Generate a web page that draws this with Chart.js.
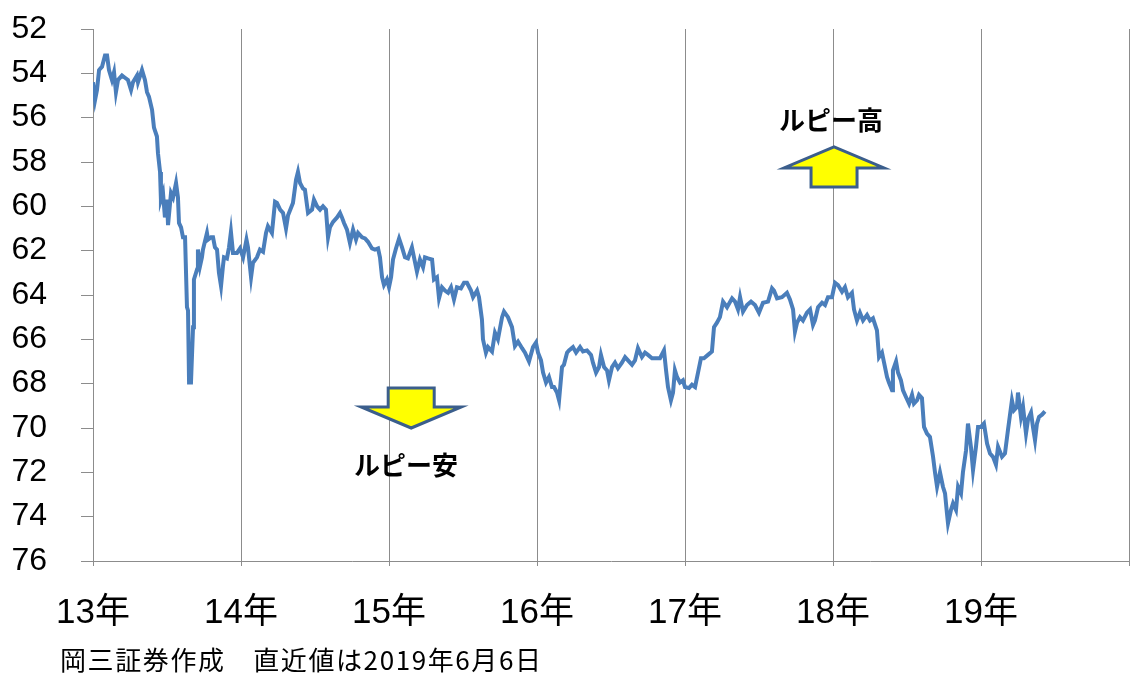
<!DOCTYPE html>
<html>
<head>
<meta charset="utf-8">
<script src="https://cdn.jsdelivr.net/npm/chart.js@4/dist/chart.umd.min.js"></script>
<style>
  body { margin: 0; background: #fff; }
  .chart-box { position: relative; width: 1131px; height: 674px; }
</style>
</head>
<body>
<div class="chart-box">
  <canvas id="rupeeChart"></canvas>
</div>
<script>
// data (x = year, 13 = 2013)
const years = [
  13.000, 13.014, 13.027, 13.041, 13.061, 13.081, 13.095, 13.108, 13.128, 13.142,
  13.155, 13.169, 13.196, 13.216, 13.236, 13.257, 13.270, 13.297, 13.304, 13.331,
  13.351, 13.365, 13.378, 13.399, 13.412, 13.432, 13.439, 13.453, 13.459, 13.473,
  13.486, 13.500, 13.507, 13.527, 13.541, 13.561, 13.574, 13.581, 13.595, 13.608,
  13.622, 13.635, 13.642, 13.649, 13.662, 13.676, 13.682, 13.703, 13.709, 13.723,
  13.736, 13.743, 13.770, 13.777, 13.797, 13.811, 13.824, 13.838, 13.851, 13.865,
  13.878, 13.885, 13.905, 13.919, 13.932, 13.946, 13.973, 13.993, 14.014, 14.037,
  14.047, 14.068, 14.081, 14.108, 14.128, 14.149, 14.169, 14.182, 14.209, 14.230,
  14.243, 14.264, 14.284, 14.304, 14.318, 14.351, 14.372, 14.385, 14.399, 14.419,
  14.432, 14.453, 14.480, 14.493, 14.514, 14.534, 14.554, 14.574, 14.588, 14.601,
  14.622, 14.649, 14.669, 14.682, 14.696, 14.716, 14.736, 14.757, 14.777, 14.791,
  14.818, 14.838, 14.858, 14.885, 14.905, 14.926, 14.939, 14.953, 14.966, 14.986,
  15.000, 15.014, 15.027, 15.047, 15.068, 15.088, 15.108, 15.128, 15.155, 15.169,
  15.189, 15.209, 15.230, 15.243, 15.264, 15.291, 15.304, 15.324, 15.338, 15.358,
  15.378, 15.399, 15.419, 15.439, 15.459, 15.486, 15.507, 15.527, 15.554, 15.568,
  15.595, 15.608, 15.628, 15.635, 15.655, 15.669, 15.696, 15.716, 15.736, 15.764,
  15.777, 15.804, 15.831, 15.851, 15.872, 15.899, 15.919, 15.946, 15.973, 15.993,
  16.007, 16.027, 16.041, 16.061, 16.081, 16.101, 16.115, 16.135, 16.149, 16.169,
  16.182, 16.203, 16.216, 16.243, 16.264, 16.291, 16.311, 16.338, 16.365, 16.378,
  16.399, 16.419, 16.432, 16.453, 16.473, 16.486, 16.507, 16.527, 16.547, 16.574,
  16.595, 16.615, 16.642, 16.662, 16.682, 16.709, 16.730, 16.750, 16.777, 16.811,
  16.831, 16.858, 16.872, 16.885, 16.905, 16.919, 16.932, 16.946, 16.966, 16.986,
  17.000, 17.027, 17.047, 17.068, 17.088, 17.108, 17.128, 17.155, 17.182, 17.196,
  17.216, 17.236, 17.257, 17.284, 17.318, 17.338, 17.358, 17.372, 17.392, 17.419,
  17.446, 17.473, 17.500, 17.527, 17.561, 17.588, 17.601, 17.622, 17.655, 17.689,
  17.709, 17.730, 17.743, 17.757, 17.777, 17.797, 17.824, 17.845, 17.865, 17.878,
  17.899, 17.926, 17.946, 17.966, 17.993, 18.014, 18.034, 18.061, 18.081, 18.101,
  18.128, 18.142, 18.162, 18.182, 18.203, 18.230, 18.250, 18.270, 18.297, 18.311,
  18.331, 18.345, 18.365, 18.378, 18.399, 18.405, 18.426, 18.439, 18.459, 18.473,
  18.493, 18.514, 18.534, 18.547, 18.568, 18.581, 18.601, 18.615, 18.635, 18.655,
  18.676, 18.689, 18.703, 18.723, 18.743, 18.757, 18.770, 18.777, 18.797, 18.811,
  18.831, 18.845, 18.865, 18.878, 18.899, 18.912, 18.932, 18.946, 18.966, 18.980,
  19.000, 19.020, 19.041, 19.061, 19.081, 19.101, 19.115, 19.142, 19.162, 19.182,
  19.209, 19.223, 19.243, 19.250, 19.270, 19.284, 19.304, 19.318, 19.338, 19.351,
  19.365, 19.378, 19.392, 19.412, 19.432
];
const rupeePerDollar = [
  54.40, 55.20, 54.75, 53.85, 53.70, 53.20, 53.20, 53.85, 54.30, 53.95,
  54.85, 54.30, 54.10, 54.20, 54.30, 54.75, 54.40, 54.10, 54.40, 53.85,
  54.30, 54.85, 55.05, 55.65, 56.45, 56.85, 57.60, 58.45, 59.70, 59.40,
  60.50, 59.70, 60.85, 59.40, 59.60, 58.95, 59.60, 60.75, 60.95, 61.40,
  61.40, 64.55, 64.70, 67.95, 67.95, 65.45, 63.30, 62.85, 61.95, 62.70,
  62.30, 61.95, 61.20, 61.50, 61.40, 61.40, 61.85, 61.95, 63.00, 63.60,
  62.70, 62.30, 62.35, 61.85, 61.15, 62.10, 62.10, 61.90, 62.30, 61.50,
  61.85, 63.20, 62.55, 62.30, 61.95, 62.05, 61.20, 60.90, 61.20, 59.80,
  59.85, 60.15, 60.30, 61.00, 60.40, 59.85, 58.80, 58.45, 58.95, 59.20,
  59.25, 60.30, 60.15, 59.70, 60.00, 60.15, 60.00, 60.15, 61.40, 60.95,
  60.70, 60.50, 60.30, 60.50, 60.75, 61.05, 61.65, 61.05, 61.50, 61.20,
  61.40, 61.45, 61.60, 61.90, 61.95, 61.90, 62.30, 63.20, 63.55, 63.30,
  63.65, 63.20, 62.40, 61.90, 61.45, 61.85, 62.30, 62.35, 61.85, 62.30,
  62.95, 62.40, 62.75, 62.30, 62.35, 62.40, 63.30, 63.20, 64.15, 63.65,
  63.80, 63.90, 63.65, 64.20, 63.65, 63.70, 63.45, 63.45, 63.80, 64.10,
  63.80, 64.10, 65.10, 66.00, 66.60, 66.35, 66.55, 65.70, 66.00, 65.00,
  64.75, 65.00, 65.45, 66.30, 66.10, 66.40, 66.60, 67.00, 66.35, 66.15,
  66.60, 66.95, 67.50, 67.95, 67.70, 68.15, 68.15, 68.40, 68.75, 67.25,
  67.15, 66.60, 66.50, 66.35, 66.60, 66.35, 66.55, 66.50, 66.70, 67.05,
  67.50, 67.25, 66.70, 67.25, 67.40, 67.85, 67.25, 67.05, 67.30, 67.05,
  66.80, 66.95, 67.15, 66.95, 66.40, 66.80, 66.60, 66.70, 66.85, 66.85,
  66.85, 66.50, 67.40, 68.15, 68.75, 68.40, 67.40, 67.70, 67.95, 67.85,
  68.15, 68.20, 68.05, 68.15, 67.50, 66.85, 66.85, 66.70, 66.55, 65.45,
  65.25, 65.00, 64.30, 64.55, 64.15, 64.30, 64.65, 64.10, 64.75, 64.45,
  64.30, 64.45, 64.80, 64.35, 64.30, 63.70, 63.80, 64.15, 64.10, 63.90,
  64.20, 64.65, 65.65, 65.25, 65.00, 65.15, 64.80, 64.65, 65.35, 65.15,
  64.55, 64.35, 64.45, 64.10, 64.10, 63.45, 63.55, 63.85, 63.65, 64.10,
  63.90, 64.65, 65.15, 64.80, 65.15, 64.90, 65.15, 65.05, 65.60, 66.80,
  66.60, 67.05, 67.70, 67.95, 68.30, 67.40, 67.00, 67.50, 67.85, 68.30,
  68.60, 68.90, 68.50, 68.90, 68.75, 68.50, 68.65, 69.95, 70.25, 70.40,
  71.30, 72.00, 72.65, 72.00, 72.65, 72.95, 73.85, 74.30, 73.70, 73.40,
  73.70, 72.65, 72.95, 72.00, 71.00, 69.80, 70.85, 71.90, 70.85, 69.95,
  69.95, 69.80, 70.70, 71.15, 71.30, 71.65, 70.85, 71.30, 71.15, 70.10,
  68.75, 69.20, 69.05, 68.40, 69.50, 69.05, 70.25, 69.60, 69.30, 69.95,
  70.55, 69.80, 69.50, 69.40, 69.25
];
const yearLabels = ['13年', '14年', '15年', '16年', '17年', '18年', '19年'];
const yMin = 52;
const yMax = 76;

const FONT = "'Liberation Sans', 'Noto Sans CJK JP', sans-serif";
const JP_FONT = "'Noto Sans CJK JP', 'Liberation Sans', sans-serif";

// yellow block arrows + labels + source note
const notesPlugin = {
  id: 'notes',
  afterDatasetsDraw(chart) {
    const ctx = chart.ctx;
    const xs = chart.scales.x;
    const ys = chart.scales.y;

    function blockArrow(year, value, dir) {
      // dir = 1 points down, -1 points up
      const tx = xs.getPixelForValue(year);
      const ty = ys.getPixelForValue(value);
      const headLen = 21, headHalf = 50, shaftHalf = 23, total = 40;
      ctx.save();
      ctx.beginPath();
      ctx.moveTo(tx, ty);
      ctx.lineTo(tx + headHalf, ty - dir * headLen);
      ctx.lineTo(tx + shaftHalf, ty - dir * headLen);
      ctx.lineTo(tx + shaftHalf, ty - dir * total);
      ctx.lineTo(tx - shaftHalf, ty - dir * total);
      ctx.lineTo(tx - shaftHalf, ty - dir * headLen);
      ctx.lineTo(tx - headHalf, ty - dir * headLen);
      ctx.closePath();
      ctx.fillStyle = '#FFFF00';
      ctx.fill();
      ctx.lineWidth = 3;
      ctx.lineJoin = 'miter';
      ctx.strokeStyle = '#3B5E8C';
      ctx.stroke();
      ctx.restore();
    }

    function label(text, year, value) {
      ctx.save();
      ctx.font = 'bold 26px ' + JP_FONT;
      ctx.fillStyle = '#000';
      ctx.textAlign = 'center';
      ctx.textBaseline = 'middle';
      ctx.fillText(text, xs.getPixelForValue(year), ys.getPixelForValue(value));
      ctx.restore();
    }

    blockArrow(15.15, 70.0, 1);
    label('ルピー安', 15.115, 71.67);
    blockArrow(18.007, 57.32, -1);
    label('ルピー高', 17.986, 56.1);

    ctx.save();
    ctx.font = '26px ' + JP_FONT;
    ctx.letterSpacing = '1.6px';
    ctx.fillStyle = '#000';
    ctx.textAlign = 'left';
    ctx.textBaseline = 'alphabetic';
    ctx.fillText('岡三証券作成　直近値は2019年6月6日', 60, 670);
    ctx.restore();
  }
};

// line chart
function lineChart() {
  const ctx = document.getElementById('rupeeChart');
  const points = years.map(function (y, i) { return { x: y, y: rupeePerDollar[i] }; });

  new Chart(ctx, {
    type: 'line',
    data: {
      datasets: [{
        label: 'ルピー/ドル',
        data: points,
        borderColor: '#4A7EBB',
        borderWidth: 4,
        pointRadius: 0,
        tension: 0,
        fill: false
      }]
    },
    options: {
      responsive: true,
      maintainAspectRatio: false,
      animation: false,
      layout: {
        padding: { top: 29, right: 2, bottom: 46, left: 0 }
      },
      plugins: {
        legend: { display: false },
        tooltip: { enabled: false }
      },
      scales: {
        x: {
          type: 'linear',
          min: 13,
          max: 20,
          afterFit: function (scale) {
            scale.height = 67;
            scale.paddingLeft = 0;
            scale.paddingRight = 0;
          },
          ticks: {
            stepSize: 1,
            autoSkip: false,
            maxRotation: 0,
            padding: 26,
            color: '#000',
            font: { family: FONT, size: 35 },
            callback: function (v) { return yearLabels[v - 13] || ''; }
          },
          grid: {
            color: '#8C8C8C',
            lineWidth: 1,
            tickLength: 5
          },
          border: { color: '#8C8C8C' }
        },
        y: {
          reverse: true,
          min: yMin,
          max: yMax,
          afterFit: function (scale) {
            scale.width = 93;
            scale.paddingTop = 0;
            scale.paddingBottom = 0;
          },
          ticks: {
            stepSize: 2,
            padding: 34,
            color: '#000',
            font: { family: FONT, size: 32 }
          },
          grid: {
            drawOnChartArea: false,
            color: '#8C8C8C',
            tickLength: 12
          },
          border: { color: '#8C8C8C' }
        }
      }
    },
    plugins: [notesPlugin]
  });
}

lineChart();
</script>
</body>
</html>
